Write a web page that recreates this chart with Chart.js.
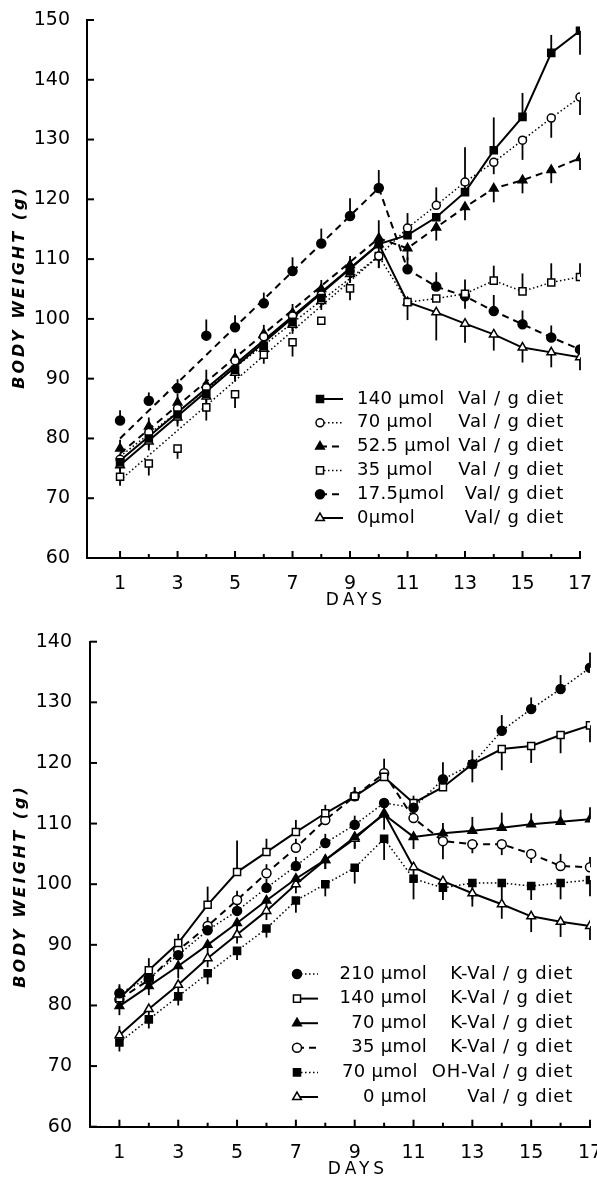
<!DOCTYPE html>
<html>
<head>
<meta charset="utf-8">
<script src="https://cdn.jsdelivr.net/npm/chart.js@4.4.1/dist/chart.umd.min.js"></script>
<style>
body { margin: 0; background: #fff; }
#wrap { position: relative; width: 597px; height: 1180px; }
canvas { position: absolute; left: 0; }
</style>
</head>
<body>
<div id="wrap">
  <canvas id="topChart" width="597" height="615" style="top:0"></canvas>
  <canvas id="bottomChart" width="597" height="565" style="top:615px"></canvas>
</div>
<script>
const days = [1, 2, 3, 4, 5, 6, 7, 8, 9, 10, 11, 12, 13, 14, 15, 16, 17];
const topYTicks = [60, 70, 80, 90, 100, 110, 120, 130, 140, 150];
const bottomYTicks = [60, 70, 80, 90, 100, 110, 120, 130, 140];

// upper panel: Val diets (mean body weight, g)
const top140 = [76, 80, 84, 87.5, 91.5, 95.5, 99.5, 103.5, 108, 112.5, 114.0, 117.0, 121.2, 128.2, 133.8, 144.5, 148.2];
const top70 = [76.5, 81, 85, 88.5, 93, 97, 100.5, 104, 108, 110.5, 115.2, 119.0, 122.9, 126.2, 129.9, 133.6, 137.1];
const top52 = [78.3, 82, 86, 89, 93.5, 97.5, 101, 105, 109, 113.5, 111.8, 115.3, 118.7, 121.8, 123.2, 124.9, 126.9];
const top35 = [73.6, 75.8, 78.3, 85.2, 87.4, 94.0, 96.1, 99.7, 105.1, 110.5, 102.8, 103.4, 104.2, 106.4, 104.6, 106.1, 107.0];
const top17 = [83.0, 86.3, 88.4, 97.2, 98.6, 102.6, 108.0, 112.6, 117.2, 121.9, 108.3, 105.4, 103.8, 101.3, 99.1, 96.9, 94.9];
const top0 = [75.5, 79.5, 83.5, 87, 91, 95, 99, 103, 107.5, 112.5, 102.8, 101.1, 99.2, 97.4, 95.2, 94.4, 93.6];
// day-1 value of the straight lines drawn over days 1-10
const topLineStart = [76.3, 77, 77.5, 73.0, 80.0, 75.5];
// error bars (signed: + up, - down)
const topErr140 = [-1.5, -1.5, -1.5, -1.5, -1.5, -1.5, -1.5, -1.5, -1.5, 0, 0, 0, 7.5, 5.5, 4, 3, -4];
const topErr70 = [1, 1, 1, 1, 1, 1, 1, 1, 1, -2, 2.5, 3, 0, -2, -3.3, -3.3, -3];
const topErr52 = [1.5, 1.5, 1.5, 2.5, 1.5, 1.5, 1.5, 1.5, 1.5, 3, -2, -2.2, -2.2, -2.3, -2.2, -2.2, -2];
const topErr35 = [-1.5, -2, -1.7, -2.2, -2.3, -1.5, -2.4, 0, -2, -2, 0, 0, -2.5, 2.5, 3, 3.2, 2.3];
const topErr17 = [1.7, 1.4, 1.5, 2.7, 2, 1.8, 2.3, 2.5, 3, 3, 2, 2.4, 2.8, 2.7, 2.3, 2, 0];
const topErr0 = [-1.5, -1.5, -1.5, -1.5, -1.5, -1.5, -1.5, -1.5, -1.5, -2, -3, -4.7, -3.2, -2.7, -2.5, -2.5, -2.2];
const topAmounts = ['140 µmol', '70 µmol', '52.5 µmol', '35 µmol', '17.5µmol', '0µmol'];
const topUnits = ['Val / g diet', 'Val / g diet', 'Val / g diet', 'Val / g diet', 'Val/ g diet', 'Val/ g diet'];

// lower panel: K-Val / OH-Val diets
const bot210 = [82.0, 84.5, 88.3, 92.4, 95.6, 99.4, 103.0, 106.8, 109.8, 113.4, 112.6, 117.3, 119.8, 125.3, 128.9, 132.2, 135.7];
const bot140 = [81.2, 85.8, 90.3, 96.6, 102.0, 105.3, 108.6, 111.7, 114.5, 117.7, 113.4, 116.0, 119.8, 122.3, 122.8, 124.6, 126.2];
const bot70 = [79.9, 83.2, 86.5, 90.0, 93.6, 97.3, 100.9, 104.0, 107.8, 111.5, 107.8, 108.4, 108.8, 109.3, 109.9, 110.3, 110.7];
const bot35 = [81.0, 84.2, 89.1, 93.1, 97.4, 101.8, 106.0, 110.6, 114.5, 118.3, 110.9, 107.1, 106.6, 106.6, 105.0, 103.0, 102.8];
const botOH = [73.9, 77.7, 81.5, 85.3, 89.0, 92.7, 97.3, 100.0, 102.7, 107.5, 100.9, 99.4, 100.2, 100.2, 99.7, 100.2, 100.7];
const bot0 = [75.1, 79.4, 83.4, 87.8, 91.7, 95.6, 100.0, 104.0, 107.5, 111.7, 102.8, 100.5, 98.5, 96.7, 94.7, 93.8, 93.1];
const botErr210 = [1.5, 1.5, 1.5, 1.5, 1.5, 1.5, 1.5, 1.5, 1.5, 0, 2, 2.8, 2.3, 2.6, 1.9, 2.3, 2.5];
const botErr140 = [2, 2, 1.5, 3, 5.2, 2.2, 2, 1.4, 1.5, 3, 0, 0, -3, -3.5, -2.8, -3, -2.8];
const botErr70 = [-1.5, -1.5, -2, -1.5, -1.5, -1.5, -1.5, -1.5, -2, -2.5, -2, 1.7, 2.3, 2.5, 1.8, 2, 2];
const botErr35 = [1.5, 1.5, 1.5, 1.5, 1.5, 1.5, 1.5, 1.5, 1.5, 0, 0, -3, -1.5, -1.8, -1.5, 2, 1.7];
const botErrOH = [-1.5, -1.5, -1.5, -1.8, -1.5, -1.5, -2, -2, -2.6, -3.5, -3.4, -2, -2.7, -2.7, -2.3, -2.7, -2.7];
const botErr0 = [1.5, -1.5, -1.5, -1.5, -1.5, -1.5, -1.5, -1.5, -1.5, 0, -2, -2, -2.2, -2.4, -2.6, -2.5, -2.3];
const botAmounts = ['210 µmol', '140 µmol', '70 µmol', '35 µmol', '70 µmol', '0 µmol'];
const botUnits = ['K-Val / g diet', 'K-Val / g diet', 'K-Val / g diet', 'K-Val / g diet', 'OH-Val / g diet', 'Val / g diet'];

const SOLID = [], DASHED = [7, 5], DOTTED = [1.5, 2.5];
const FONT = '"DejaVu Sans", sans-serif';

const topStyles = [
  { pt: 'rect', r: 5, fill: true, dash: SOLID, w: 2 },
  { pt: 'circle', r: 4, fill: false, dash: DOTTED, w: 1.5 },
  { pt: 'triangle', r: 5, fill: true, dash: DASHED, w: 2 },
  { pt: 'rect', r: 5, fill: false, dash: DOTTED, w: 1.5 },
  { pt: 'circle', r: 4.5, fill: true, dash: DASHED, w: 2 },
  { pt: 'triangle', r: 5, fill: false, dash: SOLID, w: 2 }
];
const botStyles = [
  { pt: 'circle', r: 4.5, fill: true, dash: DOTTED, w: 1.5 },
  { pt: 'rect', r: 5, fill: false, dash: SOLID, w: 2 },
  { pt: 'triangle', r: 5, fill: true, dash: SOLID, w: 2 },
  { pt: 'circle', r: 4.5, fill: false, dash: DASHED, w: 2 },
  { pt: 'rect', r: 5, fill: true, dash: DOTTED, w: 1.5 },
  { pt: 'triangle', r: 5, fill: false, dash: SOLID, w: 2 }
];

function pts(vals) {
  return days.map((d, i) => ({ x: d, y: vals[i] }));
}

function markerDs(vals, errs, st) {
  return {
    data: pts(vals), errs: errs, showLine: false, order: 0,
    pointStyle: st.pt, pointRadius: st.r, pointBorderWidth: 1.5,
    pointBorderColor: '#000', pointBackgroundColor: st.fill ? '#000' : '#fff'
  };
}

function lineDs(data, st) {
  return {
    data: data, order: 1, pointRadius: 0, borderColor: '#000',
    borderWidth: st.w, borderDash: st.dash, spanGaps: true, tension: 0
  };
}

function drawMark(ctx, st, x, y) {
  ctx.beginPath();
  if (st.pt === 'circle') {
    ctx.arc(x, y, st.r, 0, Math.PI * 2);
  } else if (st.pt === 'rect') {
    const s = st.r * Math.SQRT1_2;
    ctx.rect(x - s, y - s, 2 * s, 2 * s);
  } else {
    ctx.moveTo(x, y - st.r);
    ctx.lineTo(x + Math.sin(Math.PI * 2 / 3) * st.r, y - Math.cos(Math.PI * 2 / 3) * st.r);
    ctx.lineTo(x + Math.sin(Math.PI * 4 / 3) * st.r, y - Math.cos(Math.PI * 4 / 3) * st.r);
    ctx.closePath();
  }
  ctx.fillStyle = st.fill ? '#000' : '#fff';
  ctx.fill();
  ctx.lineWidth = 1.5;
  ctx.setLineDash([]);
  ctx.strokeStyle = '#000';
  ctx.stroke();
}

function seg(ctx, x1, y1, x2, y2) {
  ctx.beginPath();
  ctx.moveTo(x1, y1);
  ctx.lineTo(x2, y2);
  ctx.stroke();
}

const decor = {
  id: 'decor',
  beforeDatasetsDraw(chart) {
    const ctx = chart.ctx, x = chart.scales.x, y = chart.scales.y;
    ctx.save();
    ctx.strokeStyle = '#000';
    ctx.lineWidth = 1.8;
    chart.data.datasets.forEach(ds => {
      if (!ds.errs) return;
      ds.data.forEach((p, i) => {
        const e = ds.errs[i];
        if (!e) return;
        const px = x.getPixelForValue(p.x);
        seg(ctx, px, y.getPixelForValue(p.y), px, y.getPixelForValue(p.y + e));
      });
    });
    ctx.restore();
  },
  afterDraw(chart, args, o) {
    const ctx = chart.ctx, a = chart.chartArea, x = chart.scales.x, y = chart.scales.y;
    ctx.save();
    ctx.strokeStyle = '#000';
    ctx.lineWidth = 2;
    // inward ticks
    y.ticks.forEach(t => {
      const py = y.getPixelForValue(t.value);
      seg(ctx, a.left, py, a.left + 7, py);
    });
    x.ticks.forEach(t => {
      const px = x.getPixelForValue(t.value);
      seg(ctx, px, a.bottom, px, a.bottom - (t.value % 2 ? 7 : 4));
    });

    // axis titles
    ctx.fillStyle = '#000';
    ctx.textBaseline = 'middle';
    ctx.textAlign = 'center';
    ctx.font = '17px ' + FONT;
    ctx.letterSpacing = '4px';
    ctx.fillText('DAYS', o.xTitle[0] + 2, o.xTitle[1]);
    ctx.save();
    ctx.translate(o.yTitle[0], o.yTitle[1]);
    ctx.rotate(-Math.PI / 2);
    ctx.font = 'italic bold 16px ' + FONT;
    ctx.letterSpacing = '3px';
    ctx.fillText('BODY WEIGHT (g)', 0, 0);
    ctx.restore();

    // legend
    const L = o.legend;
    ctx.font = '18px ' + FONT;
    L.amounts.forEach((amt, i) => {
      const ly = L.y + i * L.step;
      const st = L.styles[i];
      ctx.lineWidth = st.w;
      ctx.setLineDash(st.dash);
      seg(ctx, L.x, ly, L.x + L.len, ly);
      drawMark(ctx, st, L.x, ly);
      ctx.fillStyle = '#000';
      ctx.textAlign = 'right';
      ctx.letterSpacing = '0.8px';
      ctx.fillText(L.units[i], L.unitRight, ly);
      const uw = ctx.measureText(L.units[i]).width;
      ctx.letterSpacing = '0.3px';
      if (L.amountLeft) {
        ctx.textAlign = 'left';
        ctx.fillText(amt, L.amountLeft, ly);
      } else {
        ctx.fillText(amt, Math.min(L.amountRight, L.unitRight - uw - 14), ly);
      }
    });
    ctx.restore();
  }
};

function makeChart(id, datasets, cfg) {
  return new Chart(document.getElementById(id), {
    type: 'line',
    data: { datasets: datasets },
    plugins: [decor],
    options: {
      responsive: false,
      animation: false,
      events: [],
      layout: { autoPadding: false, padding: { left: 0, top: cfg.top, right: cfg.right, bottom: 0 } },
      elements: { line: { borderCapStyle: 'butt' } },
      plugins: {
        legend: { display: false },
        tooltip: { enabled: false },
        decor: cfg.decor
      },
      scales: {
        x: {
          type: 'linear', min: cfg.xMin, max: 17,
          afterBuildTicks: s => { s.ticks = days.map(d => ({ value: d })); },
          afterFit: s => { s.height = cfg.xHeight; s.paddingLeft = 0; s.paddingRight = 0; },
          grid: { display: false },
          border: { display: true, color: '#000', width: 2 },
          ticks: {
            autoSkip: false, maxRotation: 0, padding: 7, color: '#000',
            font: { family: FONT, size: 19 },
            callback: v => (v % 2 ? String(v) : '')
          }
        },
        y: {
          min: cfg.yTicks[0], max: cfg.yTicks[cfg.yTicks.length - 1],
          afterBuildTicks: s => { s.ticks = cfg.yTicks.map(v => ({ value: v })); },
          afterFit: s => { s.width = cfg.yWidth; s.paddingTop = 0; s.paddingBottom = 0; },
          grid: { display: false },
          border: { display: true, color: '#000', width: 2 },
          ticks: { padding: cfg.yPad, color: '#000', font: { family: FONT, size: 19 } }
        }
      }
    }
  });
}

// upper panel datasets
const topVals = [top140, top70, top52, top35, top17, top0];
const topErrs = [topErr140, topErr70, topErr52, topErr35, topErr17, topErr0];
const topSets = [];
topVals.forEach((vals, k) => {
  const line = [{ x: 1, y: topLineStart[k] }, { x: 10, y: vals[9] }];
  for (let i = 10; i < days.length; i++) line.push({ x: days[i], y: vals[i] });
  topSets.push(lineDs(line, topStyles[k]));
  topSets.push(markerDs(vals, topErrs[k], topStyles[k]));
});

makeChart('topChart', topSets, {
  top: 20, right: 17, xMin: -0.15, xHeight: 57, yWidth: 87, yPad: 9, yTicks: topYTicks,
  decor: {
    xTitle: [354, 601], yTitle: [20, 287],
    legend: {
      x: 320, len: 23, y: 399, step: 23.8, styles: topStyles,
      amounts: topAmounts, units: topUnits, amountLeft: 357, unitRight: 564
    }
  }
});

// lower panel datasets
const botVals = [bot210, bot140, bot70, bot35, botOH, bot0];
const botErrs = [botErr210, botErr140, botErr70, botErr35, botErrOH, botErr0];
const botSets = [];
botVals.forEach((vals, k) => {
  botSets.push(lineDs(pts(vals), botStyles[k]));
  botSets.push(markerDs(vals, botErrs[k], botStyles[k]));
});

makeChart('bottomChart', botSets, {
  top: 26.7, right: 7, xMin: 0, xHeight: 53.3, yWidth: 90, yPad: 10, yTicks: bottomYTicks,
  decor: {
    xTitle: [356, 555], yTitle: [21, 271],
    legend: {
      x: 297, len: 21, y: 359, step: 24.6, styles: botStyles,
      amounts: botAmounts, units: botUnits, amountRight: 427, unitRight: 573
    }
  }
});
</script>
</body>
</html>
